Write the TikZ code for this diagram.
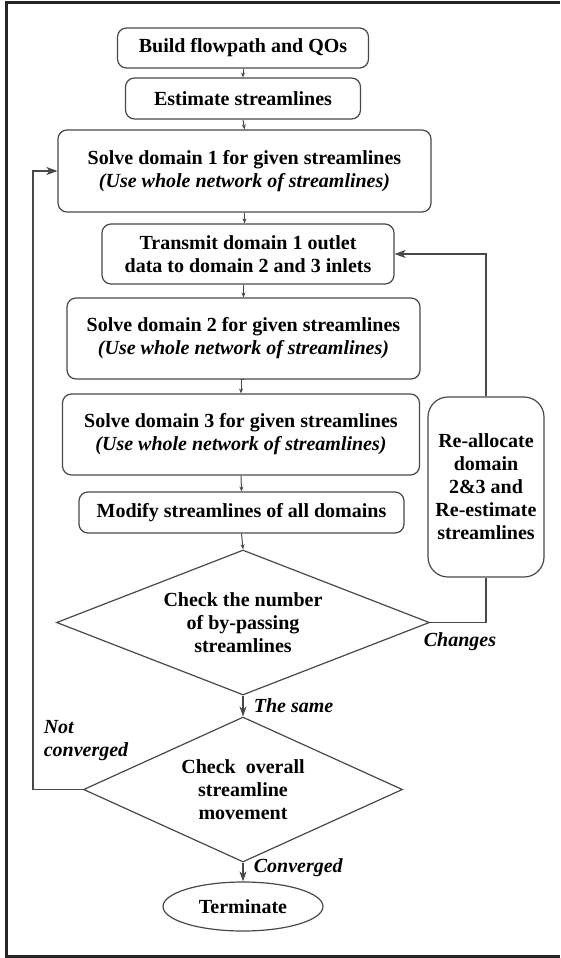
\documentclass[tikz,border=0pt]{standalone}
\usepackage{fontspec}
\setmainfont{Liberation Serif}
\usepackage{xcolor}
\usepackage{tikz}
\usetikzlibrary{shapes.geometric,arrows.meta}

\definecolor{linegray}{RGB}{72,72,72}

\tikzset{
    flowfont/.style={font=\fontsize{20}{23}\selectfont\bfseries},
    flowbox/.style={draw=linegray, line width=1.2pt, rounded corners=9pt, align=center, inner sep=0pt, flowfont},
    checkbox/.style={draw=linegray, line width=1.2pt, shape=diamond, aspect=2.57, align=center, inner sep=0pt, flowfont},
    endbox/.style={draw=linegray, line width=1.2pt, shape=ellipse, inner sep=0pt, flowfont},
    answer/.style={font=\fontsize{20}{23}\selectfont\bfseries\itshape, inner sep=0pt},
    smallarrow/.style={-{Stealth[length=5pt,width=4pt]}, line width=1pt, linegray},
    bigarrow/.style={-{Stealth[length=10pt,width=7pt,inset=3pt]}, line width=1.2pt, linegray},
    looparrow/.style={-{Stealth[length=11pt,width=8pt,inset=3pt]}, line width=1.2pt, linegray}
}

\begin{document}
\begin{tikzpicture}[x=1pt,y=-1pt]
    \useasboundingbox (0,0) rectangle (560,958);

    % Outer frame
    \draw[line width=3pt, black!85] (560,2.7) -- (6.4,2.7) -- (6.4,956.5) -- (560,956.5);

    % Main column
    \node[flowbox, minimum width=251pt, minimum height=40pt] (build) at (243,48) {Build flowpath and QOs};
    \node[flowbox, minimum width=235pt, minimum height=41pt] (est) at (243,98.5) {Estimate streamlines};
    \node[flowbox, minimum width=373pt, minimum height=82pt] (dom1) at (244.5,171)
        {Solve domain 1 for given streamlines\\ \itshape(Use whole network of streamlines)};
    \node[flowbox, minimum width=292pt, minimum height=60pt] (trans) at (248,254)
        {Transmit domain 1 outlet\\ data to domain 2 and 3 inlets};
    \node[flowbox, minimum width=353pt, minimum height=81pt] (dom2) at (243.5,338.5)
        {Solve domain 2 for given streamlines\\ \itshape(Use whole network of streamlines)};
    \node[flowbox, minimum width=357pt, minimum height=81pt] (dom3) at (241,434.5)
        {Solve domain 3 for given streamlines\\ \itshape(Use whole network of streamlines)};
    \node[flowbox, minimum width=325pt, minimum height=41pt] (modify) at (241.5,512.5) {Modify streamlines of all domains};

    % Checks and end
    \node[checkbox, minimum width=373pt, minimum height=145pt] (chk1) at (243,622.5)
        {Check the number\\ of by-passing\\ streamlines};
    \node[checkbox, minimum width=319pt, minimum height=145pt] (chk2) at (243,789.5)
        {Check~ overall\\ streamline\\ movement};
    \node[endbox, minimum width=160pt, minimum height=49pt] (term) at (243,906.5) {Terminate};

    % Re-allocate box
    \node[flowbox, rounded corners=20pt, minimum width=116pt, minimum height=180pt] (realloc) at (486,487)
        {Re-allocate\\ domain\\ 2\&3 and\\ Re-estimate\\ streamlines};

    % Arrows down the column
    \draw[smallarrow] (build.south) -- (est.north);
    \draw[smallarrow] (est.south) -- (dom1.north);
    \draw[smallarrow] (dom1.south) -- (dom1.south |- trans.north);
    \draw[smallarrow] (trans.south -| dom2.north) -- (dom2.north);
    \draw[smallarrow] (dom2.south) -- (dom2.south -| dom3.north) -- (dom3.north);
    \draw[smallarrow] (dom3.south) -- (modify.north);
    \draw[smallarrow] (modify.south) -- (chk1.north);
    \draw[bigarrow] (chk1.south) -- (chk2.north);
    \draw[bigarrow] (chk2.south) -- (term.north);

    % Loops
    \coordinate (lside) at (33,0);
    \draw[looparrow] (chk2.west) -- (chk2.west -| lside) |- (dom1.west);
    \draw[line width=1.2pt, linegray] (chk1.east) -| (realloc.south);
    \draw[looparrow] (realloc.north) |- (trans.east);

    % Answers
    \node[answer] (changes) at (460,642) {Changes};
    \node[answer, anchor=west] (same) at (253.6,706) {The same};
    \node[answer, anchor=west, align=left] (notconv) at (43.6,740.5) {Not\\ converged};
    \node[answer, anchor=west] (conv) at (253.6,868) {Converged};
\end{tikzpicture}
\end{document}
